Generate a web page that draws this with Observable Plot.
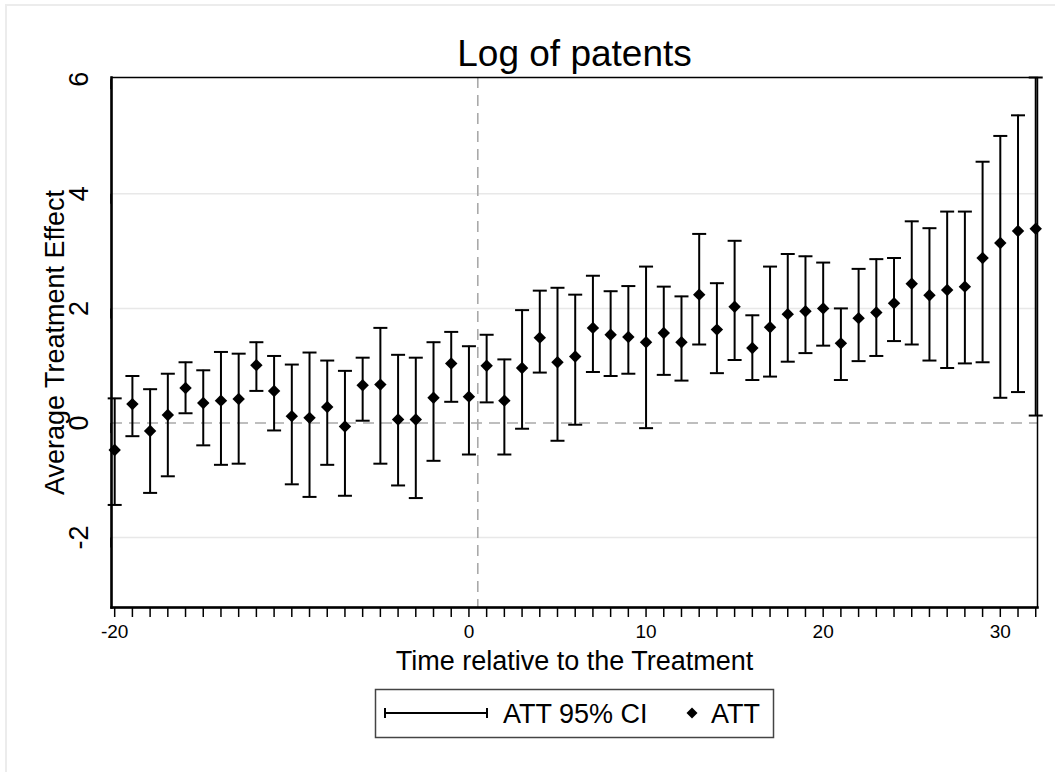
<!DOCTYPE html>
<html>
<head>
<meta charset="utf-8">
<script src="https://cdn.jsdelivr.net/npm/d3@7"></script>
<script src="https://cdn.jsdelivr.net/npm/@observablehq/plot@0.6"></script>
<style>
  html, body { margin: 0; padding: 0; background: #fff; }
  body { font-family: "Liberation Sans", Arial, Helvetica, sans-serif; }
  #wrap { position: relative; width: 1055px; height: 772px; overflow: hidden; background: #fff; }
  #edge { position: absolute; left: 5px; top: 4px; width: 1200px; height: 900px;
          border-left: 2px solid #ececec; border-top: 2px solid #ececec; }
  #chart { position: absolute; left: 0; top: 0; }
  #legend { position: absolute; left: 0; top: 0; }
</style>
</head>
<body>
<div id="wrap">
  <div id="edge"></div>
  <div id="chart"></div>
  <svg id="legend" width="1055" height="772"></svg>
</div>
<script>
// ---- data ----
const times = [-20,-19,-18,-17,-16,-15,-14,-13,-12,-11,-10,-9,-8,-7,-6,-5,-4,-3,-2,-1,0,
  1,2,3,4,5,6,7,8,9,10,11,12,13,14,15,16,17,18,19,20,21,22,23,24,25,26,27,28,29,30,31,32];
const att = [-0.47,0.33,-0.14,0.14,0.61,0.35,0.39,0.42,1.01,0.56,0.12,
  0.09,0.28,-0.06,0.66,0.67,0.06,0.06,0.44,1.04,0.46,
  1.00,0.39,0.96,1.49,1.06,1.16,1.66,1.54,1.50,1.41,
  1.57,1.41,2.24,1.63,2.03,1.31,1.67,1.90,1.95,2.00,
  1.39,1.83,1.93,2.09,2.43,2.23,2.32,2.38,2.88,3.14,3.35,3.39];
const ciUpper = [0.43,0.82,0.59,0.86,1.06,0.92,1.24,1.21,1.41,1.17,1.02,
  1.23,1.09,0.91,1.14,1.66,1.19,1.14,1.41,1.59,1.34,
  1.54,1.11,1.97,2.31,2.36,2.24,2.57,2.30,2.39,2.73,
  2.38,2.21,3.30,2.44,3.18,1.88,2.73,2.95,2.91,2.80,
  2.00,2.69,2.86,2.88,3.52,3.40,3.69,3.69,4.56,5.01,5.37,6.03];
const ciLower = [-1.43,-0.23,-1.22,-0.93,0.17,-0.39,-0.73,-0.71,0.56,-0.13,-1.07,
  -1.29,-0.73,-1.27,0.04,-0.71,-1.09,-1.31,-0.66,0.37,-0.55,
  0.36,-0.55,-0.10,0.88,-0.31,-0.03,0.89,0.82,0.86,-0.09,
  0.84,0.74,1.37,0.87,1.10,0.75,0.81,1.07,1.22,1.35,
  0.75,1.08,1.17,1.43,1.37,1.09,0.96,1.04,1.06,0.44,0.54,0.13];
const xTickLabels = [-20, 0, 10, 20, 30];
const yTicks = [-2, 0, 2, 4, 6];
const gridLines = [-2, 2, 4];
const treatmentLine = [0.5];
const zeroLine = [0];
const titleText = "Log of patents";
const xTitle = "Time relative to the Treatment";
const yTitle = "Average Treatment Effect";
const legendLabels = ["ATT 95% CI", "ATT"];

const rows = times.map((t, i) => ({t, att: att[i], lo: ciLower[i], hi: ciUpper[i]}));

const FONT = "'Liberation Sans', Arial, Helvetica, sans-serif";

// horizontal cap symbol for the CI ends
const capSymbol = {
  draw(context) {
    context.moveTo(-7, 0);
    context.lineTo(7, 0);
  }
};

const chart = Plot.plot({
  width: 1055,
  height: 772,
  marginLeft: 111,
  marginRight: 18,
  marginTop: 77,
  marginBottom: 165,
  style: { fontFamily: FONT, background: "transparent", color: "#000" },
  x: { domain: [-20.18, 32.1] },
  y: { domain: [-3.22, 6.03] },
  marks: [
    Plot.ruleY(gridLines, { stroke: "#e8e8e8", strokeWidth: 1.5 }),
    Plot.ruleY(zeroLine, { stroke: "#a9a9a9", strokeWidth: 1.6, strokeDasharray: "11,7" }),
    Plot.ruleX(treatmentLine, { stroke: "#a9a9a9", strokeWidth: 1.6, strokeDasharray: "11,7" }),
    Plot.ruleX(rows, { x: "t", y1: "lo", y2: "hi", stroke: "#000", strokeWidth: 2 }),
    Plot.dot(rows, { x: "t", y: "hi", symbol: capSymbol, r: 4, stroke: "#000", fill: "none", strokeWidth: 2 }),
    Plot.dot(rows, { x: "t", y: "lo", symbol: capSymbol, r: 4, stroke: "#000", fill: "none", strokeWidth: 2 }),
    Plot.dot(rows, { x: "t", y: "att", symbol: "diamond2", r: 5.6, fill: "#000", stroke: "none" }),
    Plot.frame({ stroke: "#000", strokeWidth: 1.5 }),
    Plot.frame({ anchor: "left", stroke: "#000", strokeWidth: 2.5 }),
    Plot.frame({ anchor: "bottom", stroke: "#000", strokeWidth: 2.5 }),
    Plot.axisX({
      ticks: times, tickSize: 10, tickPadding: 7, strokeWidth: 1.5,
      tickFormat: d => xTickLabels.includes(d) ? String(d) : "",
      fontSize: 19, label: null
    }),
    Plot.axisY({
      ticks: yTicks, tickSize: 10, tickPadding: 22, strokeWidth: 1.5,
      rotate: -90, textAnchor: "middle", lineAnchor: "middle",
      tickFormat: d => String(d), fontSize: 27, label: null
    }),
    Plot.text([titleText], { frameAnchor: "top", dy: -12, lineAnchor: "bottom", fontSize: 37, fill: "#000" }),
    Plot.text([xTitle], { frameAnchor: "bottom", dy: 62, lineAnchor: "bottom", fontSize: 27, fill: "#000" }),
    Plot.text([yTitle], { frameAnchor: "left", dx: -67, rotate: -90, textAnchor: "middle", lineAnchor: "top", fontSize: 27, fill: "#000" })
  ]
});
document.getElementById("chart").appendChild(chart);

// ---- legend ----
const lg = d3.select("#legend");
lg.append("rect").attr("x", 375.5).attr("y", 689.5).attr("width", 398).attr("height", 48)
  .attr("fill", "#fff").attr("stroke", "#444").attr("stroke-width", 1.5);
lg.append("line").attr("x1", 385).attr("x2", 487).attr("y1", 713).attr("y2", 713)
  .attr("stroke", "#000").attr("stroke-width", 2);
[385, 487].forEach(x => lg.append("line").attr("x1", x).attr("x2", x).attr("y1", 708).attr("y2", 718)
  .attr("stroke", "#000").attr("stroke-width", 2));
lg.append("text").attr("x", 503).attr("y", 723).attr("font-size", 27).attr("font-family", FONT)
  .text(legendLabels[0]);
lg.append("path").attr("transform", "translate(692,713)").attr("d", "M0,-5.5L5.5,0L0,5.5L-5.5,0Z").attr("fill", "#000");
lg.append("text").attr("x", 711).attr("y", 723).attr("font-size", 27).attr("font-family", FONT)
  .text(legendLabels[1]);
</script>
</body>
</html>
